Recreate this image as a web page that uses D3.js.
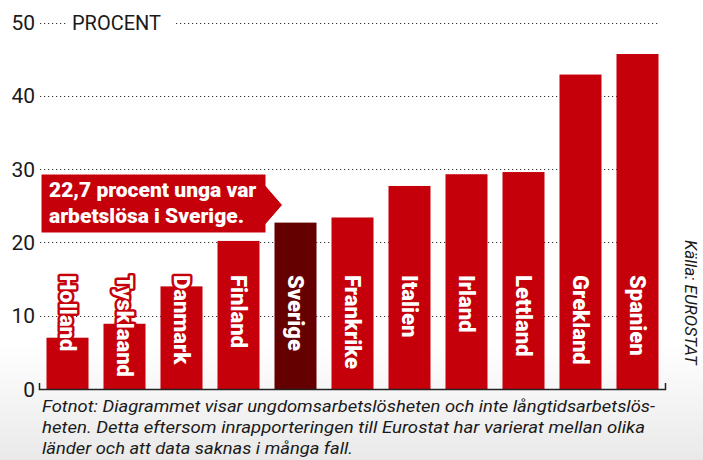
<!doctype html>
<html lang="sv">
<head>
	<meta charset="UTF-8">
	<title>Ungdomsarbetslöshet</title>
	<style>
		body { margin: 0; background: #fff; }
		svg { display: block; }
	</style>
</head>
<body>
	<script src="https://cdn.jsdelivr.net/npm/d3@7/dist/d3.min.js"></script>
	<script>
		var countries = ['Holland', 'Tysklaand', 'Danmark', 'Finland', 'Sverige', 'Frankrike', 'Italien', 'Irland', 'Lettland', 'Grekland', 'Spanien'];
		var values = [7.0, 8.9, 14.0, 20.2, 22.7, 23.4, 27.7, 29.3, 29.6, 42.9, 45.7];
		var yTicks = [0, 10, 20, 30, 40, 50];
		var highlight = 'Sverige';
		var calloutLines = ['22,7 procent unga var', 'arbetslösa i Sverige.'];
		var footnote = [
			'Fotnot: Diagrammet visar ungdomsarbetslösheten och inte långtidsarbetslös-',
			'heten. Detta eftersom inrapporteringen till Eurostat har varierat mellan olika',
			'länder och att data saknas i många fall.'
		];

		var w = 703,
			h = 460,
			red = '#c5000b',
			darkRed = '#650000';

		var svg = d3.select('body')
			.append('svg')
			.attr('width', w)
			.attr('height', h);

		// faint grey fade at the bottom
		var grad = svg.append('defs').append('linearGradient')
			.attr('id', 'bg').attr('x1', 0).attr('y1', 0).attr('x2', 0).attr('y2', 1);
		grad.append('stop').attr('offset', '0.75').attr('stop-color', '#ffffff');
		grad.append('stop').attr('offset', '1').attr('stop-color', '#e9e9e9');
		svg.append('rect').attr('width', w).attr('height', h).attr('fill', 'url(#bg)');

		var x = d3.scaleBand()
			.domain(countries)
			.range([40, 665])
			.paddingInner(0.263)
			.paddingOuter(0.114);

		var y = d3.scaleLinear()
			.domain([0, 50])
			.range([389, 22.5]);

		// dotted grid
		svg.append('g').selectAll('line')
			.data(yTicks.filter(function(d) { return d > 0; }))
			.enter()
			.append('line')
			.attr('x1', 40)
			.attr('x2', 660)
			.attr('y1', function(d) { return Math.round(y(d)) + 0.5; })
			.attr('y2', function(d) { return Math.round(y(d)) + 0.5; })
			.attr('stroke', '#333')
			.attr('stroke-width', 1.2)
			.attr('stroke-dasharray', '1.2,2.8');

		// tick labels
		svg.append('g').selectAll('text')
			.data(yTicks)
			.enter()
			.append('text')
			.attr('x', 35)
			.attr('y', function(d) { return y(d); })
			.attr('dy', '0.36em')
			.attr('text-anchor', 'end')
			.attr('font-family', 'Roboto, sans-serif')
			.attr('font-size', 21)
			.attr('fill', '#1a1a1a')
			.text(function(d) { return d; });

		// PROCENT label cuts the top grid line
		svg.append('rect')
			.attr('x', 68).attr('y', y(50) - 10).attr('width', 106).attr('height', 20)
			.attr('fill', '#fff');
		svg.append('text')
			.attr('x', 72)
			.attr('y', y(50))
			.attr('dy', '0.36em')
			.attr('font-family', 'Roboto, sans-serif')
			.attr('font-size', 20)
			.attr('fill', '#1a1a1a')
			.text('PROCENT');

		// bars
		svg.append('g').selectAll('rect')
			.data(values)
			.enter()
			.append('rect')
			.attr('x', function(d, i) { return x(countries[i]); })
			.attr('y', function(d) { return y(d); })
			.attr('width', x.bandwidth())
			.attr('height', function(d) { return y(0) - y(d); })
			.attr('fill', function(d, i) { return countries[i] === highlight ? darkRed : red; });

		// country names, rotated
		svg.append('g').selectAll('text')
			.data(countries)
			.enter()
			.append('text')
			.attr('transform', function(d) {
				return 'translate(' + (x(d) + x.bandwidth() / 2) + ',275) rotate(90)';
			})
			.attr('dy', '0.36em')
			.attr('font-family', 'Roboto, sans-serif')
			.attr('font-weight', 900)
			.attr('font-size', 22)
			.attr('fill', '#fff')
			.attr('stroke', function(d) { return d === highlight ? darkRed : red; })
			.attr('stroke-width', 5)
			.attr('stroke-linejoin', 'round')
			.attr('paint-order', 'stroke')
			.text(function(d) { return d; });

		// axis line with end hooks
		svg.append('path')
			.attr('d', 'M39.5,383V389.5H665.5V383')
			.attr('fill', 'none')
			.attr('stroke', '#222')
			.attr('stroke-width', 1.5);

		// callout
		var sx = x(highlight);
		svg.append('path')
			.attr('d', 'M41,174H266V186L' + (sx + 8) + ',205L266,224V233H41Z')
			.attr('fill', red)
			.attr('stroke', '#fff')
			.attr('stroke-width', 1);
		svg.append('g').selectAll('text')
			.data(calloutLines)
			.enter()
			.append('text')
			.attr('x', 49)
			.attr('y', function(d, i) { return 197 + i * 26; })
			.attr('font-family', 'Roboto, sans-serif')
			.attr('font-weight', 900)
			.attr('font-size', 21)
			.attr('fill', '#fff')
			.text(function(d) { return d; });

		// source
		svg.append('text')
			.attr('transform', 'translate(685,240) rotate(90)')
			.attr('font-family', 'Roboto, sans-serif')
			.attr('font-style', 'italic')
			.attr('font-size', 17)
			.attr('fill', '#1a1a1a')
			.text('Källa: EUROSTAT');

		// footnote
		var fnLen = [613, 603, 311];
		svg.append('g').selectAll('text')
			.data(footnote)
			.enter()
			.append('text')
			.attr('x', 42)
			.attr('y', function(d, i) { return 412 + i * 21; })
			.attr('textLength', function(d, i) { return fnLen[i]; })
			.attr('lengthAdjust', 'spacingAndGlyphs')
			.attr('font-family', 'Roboto, sans-serif')
			.attr('font-style', 'italic')
			.attr('font-size', 17)
			.attr('fill', '#1a1a1a')
			.text(function(d) { return d; });
	</script>
</body>
</html>
